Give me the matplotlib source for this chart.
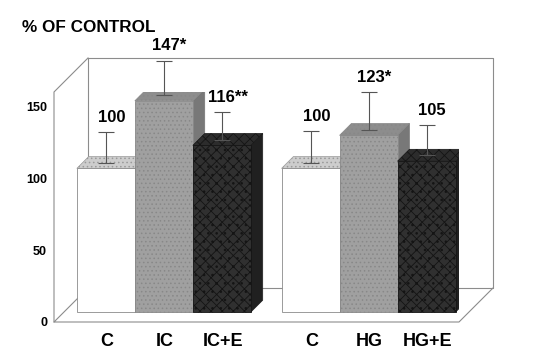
import numpy as np
import matplotlib.pyplot as plt
from matplotlib.patches import Polygon

plt.rcParams['font.family'] = ['Liberation Sans', 'DejaVu Sans']
plt.rcParams['hatch.linewidth'] = 0.6

# data
labels = ["C", "IC", "IC+E", "C", "HG", "HG+E"]
values = [100, 147, 116, 100, 123, 105]
errors = [21, 24, 19, 22, 26, 21]
value_text = ["100", "147*", "116**", "100", "123*", "105"]
yticks = [0, 50, 100, 150]
kinds = ["white", "gray", "dark", "white", "gray", "dark"]

pos = np.array([0, 1, 2, 3.53, 4.53, 5.53])

# face colours per bar kind: front, top, side, hatch, edge
styles = {
    "white": dict(front="#ffffff", top="#cdcdcd", side="#bdbdbd", hatch="", thatch="....", hc="#9a9a9a", edge="#8a8a8a"),
    "gray":  dict(front="#a0a0a0", top="#8d8d8d", side="#787878", hatch="....", thatch="....", hc="#888888", edge="#777777"),
    "dark":  dict(front="#303030", top="#2c2c2c", side="#202020", hatch="xxx..", thatch="xxx", hc="#141414", edge="#222222"),
}

fig = plt.figure(figsize=(5.46, 3.59), dpi=100)
ax = fig.add_axes([54 / 546, 37 / 359, 405 / 546, 230 / 359])
xl, xr = -0.724, 6.26
ymax = 160
ax.set_xlim(xl, xr)
ax.set_ylim(0, ymax)

# depth of the box in data units
ddx = 34 / 58.0
ddy = 34 / (230 / ymax)
fb, fe = 0.29, 0.64   # bar front / back as fraction of box depth
fm = 0.46

lc = "#8c8c8c"
lw = 0.8
def box_line(xs, ys):
    ax.plot(xs, ys, color=lc, lw=lw, clip_on=False, zorder=1)

# box: back wall, floor and left edge
box_line([xl + ddx, xr + ddx, xr + ddx, xl + ddx, xl + ddx],
         [ymax + ddy, ymax + ddy, ddy, ddy, ymax + ddy])
box_line([xl, xl, xl + ddx], [0, ymax, ymax + ddy])
box_line([xl + ddx, xl, xr, xr + ddx], [ddy, 0, 0, ddy])

# bars
bx = pos + fb * ddx - 0.5
by = fb * ddy
bdx = (fe - fb) * ddx
bdy = (fe - fb) * ddy
for i, v in enumerate(values):
    s = styles[kinds[i]]
    x0, x1 = bx[i], bx[i] + 1
    top = by + v
    side = Polygon([(x1, by), (x1, top), (x1 + bdx, top + bdy), (x1 + bdx, by + bdy)],
                   closed=True, facecolor=s["side"], edgecolor=s["edge"], lw=0.5, zorder=2 + i)
    ax.add_patch(side)
    tp = Polygon([(x0, top), (x1, top), (x1 + bdx, top + bdy), (x0 + bdx, top + bdy)],
                 closed=True, facecolor=s["top"], edgecolor=s["hc"], hatch=s["thatch"], lw=0.5, zorder=2 + i)
    ax.add_patch(tp)
    ax.bar(x0, v, width=1, bottom=by, align="edge", color=s["front"],
           edgecolor=s["hc"] if s["hatch"] else s["edge"], hatch=s["hatch"], lw=0.6, zorder=2 + i)

# error bars and value labels (mid depth of bar)
ex = pos + fm * ddx - 0.1
ey = fm * ddy
for i, v in enumerate(values):
    ax.errorbar(ex[i], ey + v, yerr=[[0], [errors[i]]], fmt="none", ecolor="#555555",
                elinewidth=0.8, capsize=6, capthick=0.8, zorder=20, clip_on=False)
    ax.text(ex[i] + 0.1, ey + v + errors[i] + 5, value_text[i], ha="center", va="bottom",
            fontsize=12, fontweight="bold", zorder=21, clip_on=False)

ax.set_xticks(pos + 0.19)
ax.set_xticklabels(labels, fontsize=13, fontweight="bold")
ax.set_yticks(yticks)
ax.set_yticklabels([str(t) for t in yticks], fontsize=9, fontweight="bold")
ax.tick_params(axis="x", length=0, pad=8)
ax.tick_params(axis="y", length=0, pad=5)
for sp in ax.spines.values():
    sp.set_visible(False)
ax.patch.set_visible(False)

fig.text(22 / 546, 1 - 32 / 359, "% OF CONTROL", fontsize=12.3, fontweight="bold", va="baseline")

fig.savefig("out.png", dpi=100)
